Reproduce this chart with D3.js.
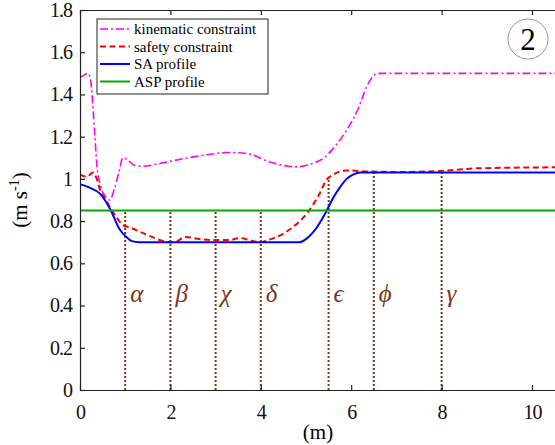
<!DOCTYPE html>
<html>
<head>
<meta charset="utf-8">
<script src="https://cdn.jsdelivr.net/npm/d3@7"></script>
<style>
  body { margin: 0; background: #fff; }
  svg { display: block; }
  svg text { font-family: "Liberation Serif", "Times New Roman", "DejaVu Serif", serif; }
</style>
</head>
<body>
<svg></svg>
<script>
// kinematic constraint (magenta dash-dot)
const kinX = [0, 0.08, 0.18, 0.24, 0.28, 0.33, 0.38, 0.45, 0.55, 0.66, 0.77, 0.87, 0.95, 1.05, 1.2, 1.4, 1.8, 2.4, 3.0, 3.3, 3.7, 4.2, 4.6, 4.8, 5.1, 5.4, 5.7, 5.9, 6.15, 6.35, 6.5, 6.6, 8, 10.6]
const kinY = [1.48, 1.49, 1.50, 1.46, 1.36, 1.20, 1.05, 0.97, 0.92, 0.90, 0.96, 1.04, 1.10, 1.09, 1.065, 1.06, 1.075, 1.10, 1.12, 1.125, 1.12, 1.08, 1.06, 1.057, 1.07, 1.10, 1.17, 1.23, 1.33, 1.44, 1.49, 1.50, 1.50, 1.50]

// safety constraint (red dashed)
const safX = [0, 0.15, 0.29, 0.37, 0.44, 0.6, 0.74, 0.96, 1.1, 1.48, 2.0, 2.15, 2.32, 2.65, 3.0, 3.3, 3.54, 3.75, 3.98, 4.15, 4.35, 4.7, 5.05, 5.3, 5.45, 5.6, 5.9, 6.35, 7.08, 7.96, 8.78, 10.6]
const safY = [1.02, 1.01, 1.03, 1.00, 0.95, 0.89, 0.84, 0.78, 0.77, 0.735, 0.70, 0.705, 0.725, 0.715, 0.71, 0.71, 0.72, 0.71, 0.70, 0.71, 0.725, 0.77, 0.845, 0.93, 0.995, 1.02, 1.04, 1.035, 1.033, 1.037, 1.05, 1.055]

// SA profile (blue)
const saX = [0, 0.2, 0.44, 0.66, 0.88, 1.05, 1.15, 1.3, 4.85, 5.0, 5.15, 5.3, 5.46, 5.6, 5.75, 5.9, 6.04, 6.2, 10.6]
const saY = [0.975, 0.96, 0.93, 0.86, 0.76, 0.72, 0.705, 0.70, 0.70, 0.715, 0.745, 0.79, 0.85, 0.91, 0.96, 1.0, 1.02, 1.03, 1.03]

// ASP profile (green)
const aspX = [0, 10.6]
const aspY = [0.85, 0.85]

// marker lines
const markX = [1, 2, 3, 4, 5.5, 6.5, 8]
const markTop = [0.85, 0.85, 0.85, 0.85, 1.0, 1.03, 1.035]
const markLabels = ['α', 'β', 'χ', 'δ', 'ϵ', 'ϕ', 'γ']

const xTicks = [0, 2, 4, 6, 8, 10]
const yTicks = [0, 0.2, 0.4, 0.6, 0.8, 1, 1.2, 1.4, 1.6, 1.8]

const legendNames = ['kinematic constraint', 'safety constraint', 'SA profile', 'ASP profile']

const w = 555
const h = 445
const padL = 80
const padT = 10
const padB = 390
const xMax = 10.6
const brown = '#7a3418'
const serif = '"Liberation Serif", "Times New Roman", serif'

let svg = d3.select('svg').attr('width', w).attr('height', h)

let xScale = d3.scaleLinear().domain([0, xMax]).range([padL, padL + 45.2 * xMax])
let yScale = d3.scaleLinear().domain([0, 1.8]).range([padB, padT])

svg.append('clipPath').attr('id', 'clip')
   .append('rect')
   .attr('x', padL).attr('y', padT)
   .attr('width', xScale(xMax) - padL).attr('height', padB - padT)

let plot = svg.append('g').attr('clip-path', 'url(#clip)')

let line = d3.line()
             .x((d) => xScale(d[0]))
             .y((d) => yScale(d[1]))
             .curve(d3.curveMonotoneX)

let zip = (xs, ys) => xs.map((x, i) => [x, ys[i]])

// dotted markers
markX.forEach((x, i) => {
    plot.append('line')
        .attr('x1', xScale(x)).attr('x2', xScale(x))
        .attr('y1', yScale(0)).attr('y2', yScale(markTop[i]))
        .attr('stroke', brown)
        .attr('stroke-width', 2)
        .attr('stroke-dasharray', '2,2')
    svg.append('text')
       .attr('x', xScale(x) + 5)
       .attr('y', yScale(0.417))
       .attr('fill', brown)
       .style('font-size', '25px')
       .style('font-style', 'italic')
       .text(markLabels[i])
})

let series = [
    { xs: kinX, ys: kinY, color: '#ff00ff', width: 1.6, dash: '8,3,2,3' },
    { xs: safX, ys: safY, color: '#ff0000', width: 2, dash: '6,3.5' },
    { xs: saX, ys: saY, color: '#0000ff', width: 2, dash: null },
    { xs: aspX, ys: aspY, color: '#00aa00', width: 2, dash: null }
]

series.forEach((s) => {
    plot.append('path')
        .datum(zip(s.xs, s.ys))
        .attr('d', line)
        .attr('fill', 'none')
        .attr('stroke', s.color)
        .attr('stroke-width', s.width)
        .attr('stroke-dasharray', s.dash)
})

// axes
let xAxis = d3.axisBottom(xScale).tickValues(xTicks).tickSizeInner(-5).tickSizeOuter(0).tickPadding(15)
let xTop = d3.axisTop(xScale).tickValues(xTicks).tickSizeInner(-5).tickSizeOuter(0).tickFormat('')
let yAxis = d3.axisLeft(yScale).tickValues(yTicks).tickSizeInner(-5).tickSizeOuter(0).tickPadding(8)
              .tickFormat((d) => d3.format('~g')(d))

svg.append('g')
   .attr('transform', 'translate(0,' + padB + ')')
   .call(xAxis)
   .attr('font-family', serif)
   .attr('font-size', 20)

svg.append('g')
   .attr('transform', 'translate(0,' + padT + ')')
   .call(xTop)

svg.append('g')
   .attr('transform', 'translate(' + padL + ',0)')
   .call(yAxis)
   .attr('font-family', serif)
   .attr('font-size', 20)

svg.selectAll('.domain, .tick line').attr('stroke', '#222').attr('stroke-width', 1.2)
svg.selectAll('.tick text').attr('fill', '#111').style('letter-spacing', '-1px')

// axis labels
svg.append('text')
   .attr('x', 318).attr('y', 439)
   .attr('text-anchor', 'middle')
   .style('font-size', '21px')
   .text('(m)')

let yl = svg.append('text')
            .attr('transform', 'translate(27,200) rotate(-90)')
            .attr('text-anchor', 'middle')
            .style('font-size', '21px')
yl.append('tspan').text('(m s')
yl.append('tspan').attr('dy', -8).style('font-size', '14px').text('-1')
yl.append('tspan').attr('dy', 8).text(')')

// legend
svg.append('rect')
   .attr('x', 97).attr('y', 19)
   .attr('width', 171).attr('height', 75)
   .attr('fill', '#fff')
   .attr('stroke', '#222')
   .attr('stroke-width', 1)

legendNames.forEach((name, i) => {
    let yy = 29 + i * 17.5
    let s = series[i]
    svg.append('line')
       .attr('x1', 100).attr('x2', 130)
       .attr('y1', yy).attr('y2', yy)
       .attr('stroke', s.color)
       .attr('stroke-width', s.width)
       .attr('stroke-dasharray', s.dash)
    svg.append('text')
       .attr('x', 134).attr('y', yy + 5)
       .style('font-size', '15px')
       .text(name)
})

// circled panel number
svg.append('circle')
   .attr('cx', 528).attr('cy', 39).attr('r', 20)
   .attr('fill', 'none')
   .attr('stroke', '#999')
   .attr('stroke-width', 1)
svg.append('text')
   .attr('x', 528).attr('y', 50)
   .attr('text-anchor', 'middle')
   .style('font-size', '31px')
   .text('2')
</script>
</body>
</html>
